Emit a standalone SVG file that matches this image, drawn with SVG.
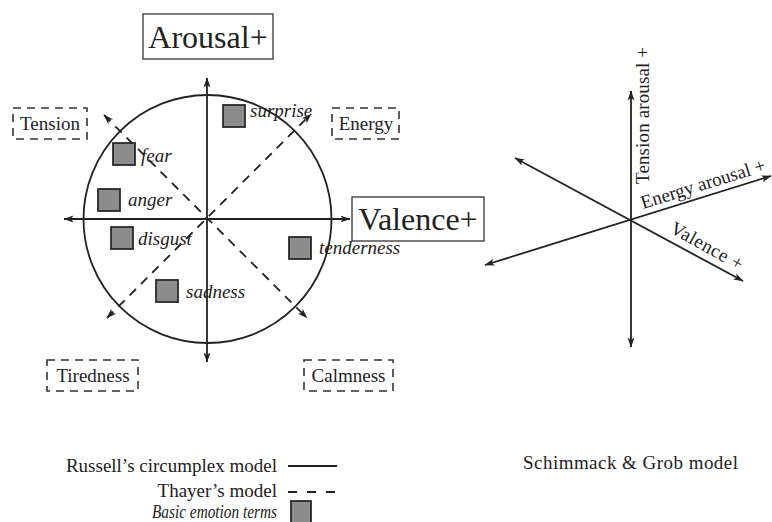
<svg xmlns="http://www.w3.org/2000/svg" width="772" height="522" viewBox="0 0 772 522">
<style>
text{font-family:"Liberation Serif","Times New Roman",serif;fill:#222;}
.big{font-size:32px;}
.lab{font-size:19px;}
.em{font-size:19px;font-style:italic;}
.box{fill:#fff;stroke:#333;stroke-width:1.3;}
.dbox{fill:#fff;stroke:#333;stroke-width:1.6;stroke-dasharray:8 6;}
.sq{fill:#8c8c8c;stroke:#2a2a2a;stroke-width:1.8;}
.ax{stroke:#222;stroke-width:1.8;fill:none;}
.dash{stroke:#222;stroke-width:1.8;fill:none;stroke-dasharray:9 7;}
</style>
<defs>
<marker id="arr" markerUnits="userSpaceOnUse" markerWidth="11" markerHeight="8" refX="9.5" refY="4" orient="auto-start-reverse">
<path d="M0,0.5 L10,4 L0,7.5 L2.5,4 z" fill="#222"/>
</marker>
</defs>
<rect width="772" height="522" fill="#fff"/>
<g id="connectors">
<circle class="ax" cx="207.5" cy="219" r="124"/>
<line class="ax" x1="207" y1="362" x2="207" y2="78" marker-start="url(#arr)" marker-end="url(#arr)"/>
<line class="ax" x1="64" y1="219" x2="350" y2="219" marker-start="url(#arr)" marker-end="url(#arr)"/>
<line class="dash" x1="104" y1="115" x2="307" y2="318" marker-start="url(#arr)" marker-end="url(#arr)"/>
<line class="dash" x1="107" y1="318" x2="311" y2="114" marker-start="url(#arr)" marker-end="url(#arr)"/>
<line class="ax" x1="631" y1="347" x2="631" y2="91" marker-start="url(#arr)" marker-end="url(#arr)"/>
<line class="ax" x1="515" y1="158" x2="743" y2="281" marker-start="url(#arr)" marker-end="url(#arr)"/>
<line class="ax" x1="485" y1="265" x2="771" y2="176" marker-start="url(#arr)" marker-end="url(#arr)"/>
</g>
<g id="arousal">
<rect class="box" x="143" y="14" width="130" height="45"/>
<text class="big" x="208" y="48" text-anchor="middle">Arousal+</text>
</g>
<g id="valence">
<rect class="box" x="352" y="197" width="132" height="44"/>
<text class="big" x="418" y="230" text-anchor="middle">Valence+</text>
</g>
<g id="tension">
<rect class="dbox" x="13" y="108" width="74" height="31"/>
<text class="lab" x="50" y="130" text-anchor="middle">Tension</text>
</g>
<g id="energy">
<rect class="dbox" x="332" y="108" width="67" height="31"/>
<text class="lab" x="366" y="130" text-anchor="middle">Energy</text>
</g>
<g id="tiredness">
<rect class="dbox" x="47" y="360" width="91" height="31"/>
<text class="lab" x="93" y="382" text-anchor="middle">Tiredness</text>
</g>
<g id="calmness">
<rect class="dbox" x="304" y="360" width="89" height="31"/>
<text class="lab" x="348.5" y="382" text-anchor="middle">Calmness</text>
</g>
<g id="surprise">
<rect class="sq" x="223" y="105" width="22" height="22"/>
<text class="em" x="250" y="117">surprise</text>
</g>
<g id="fear">
<rect class="sq" x="113" y="143" width="22" height="22"/>
<text class="em" x="141" y="162">fear</text>
</g>
<g id="anger">
<rect class="sq" x="98" y="189" width="22" height="22"/>
<text class="em" x="128" y="206">anger</text>
</g>
<g id="disgust">
<rect class="sq" x="111" y="227" width="22" height="22"/>
<text class="em" x="138" y="245">disgust</text>
</g>
<g id="tenderness">
<rect class="sq" x="289" y="237" width="22" height="22"/>
<text class="em" x="319" y="254">tenderness</text>
</g>
<g id="sadness">
<rect class="sq" x="156" y="280" width="22" height="22"/>
<text class="em" x="186" y="298">sadness</text>
</g>
<g id="tension-arousal">
<text class="lab" transform="translate(649,184) rotate(-90)" textLength="137">Tension arousal +</text>
</g>
<g id="energy-arousal">
<text class="lab" transform="translate(643,209) rotate(-17.3)">Energy arousal +</text>
</g>
<g id="valence-plus">
<text class="lab" transform="translate(669,232) rotate(29)" textLength="80">Valence +</text>
</g>
<g id="legend">
<text class="lab" x="277" y="472" text-anchor="end">Russell’s circumplex model</text>
<line class="ax" x1="288" y1="466" x2="337" y2="466"/>
<text class="lab" x="277" y="497" text-anchor="end">Thayer’s model</text>
<line class="ax" x1="288" y1="492" x2="337" y2="492" stroke-dasharray="9 10"/>
<text class="lab" x="277" y="518" text-anchor="end" font-style="italic" font-size="18" textLength="125" lengthAdjust="spacingAndGlyphs">Basic emotion terms</text>
<rect class="sq" x="291" y="501" width="20" height="22"/>
</g>
<g id="schimmack">
<text class="lab" x="523" y="469" textLength="215">Schimmack &amp; Grob model</text>
</g>
</svg>
